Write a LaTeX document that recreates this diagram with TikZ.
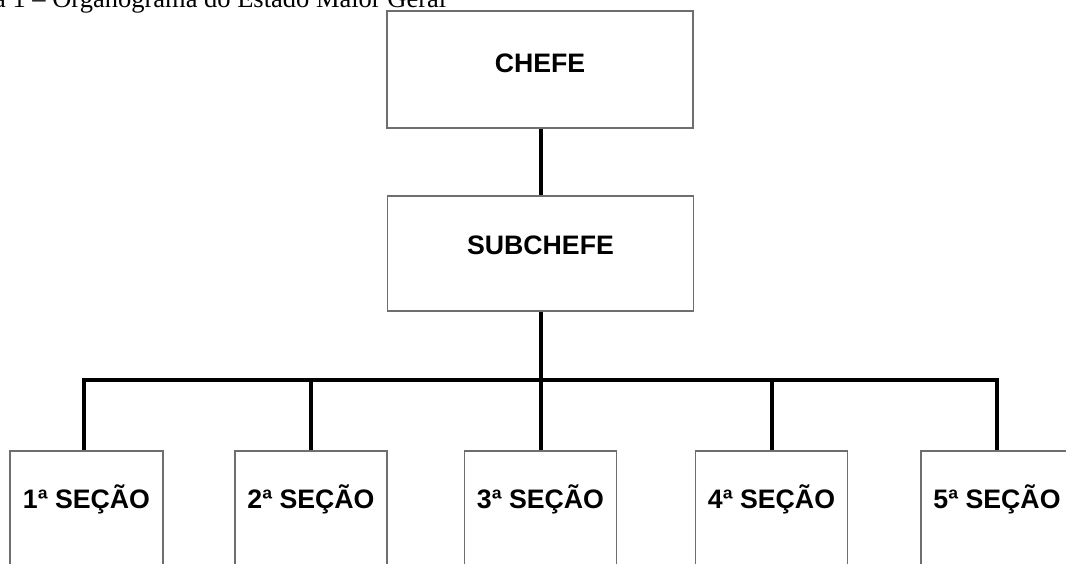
\documentclass[tikz,border=0pt]{standalone}
\usepackage{fontspec}
\setmainfont{Liberation Serif}
\newfontfamily\boxfont{Liberation Sans}
\definecolor{boxline}{RGB}{110,110,110}
\begin{document}
\begin{tikzpicture}[x=1pt,y=-1pt,
  orgbox/.style={draw=boxline, line width=1.5pt, fill=white, inner xsep=0pt,
    font=\boxfont\bfseries\fontsize{26.7}{30}\selectfont, anchor=north},
  topbox/.style={orgbox, inner ysep=0pt, minimum width=306pt},
  secbox/.style={orgbox, minimum width=152pt, inner ysep=37.5pt, text height=20pt, text depth=100pt},
  link/.style={line width=4pt, black}]
\clip (0,0) rectangle (1066,563);
\fill[white] (0,0) rectangle (1066,563);
% caption (partly cut off in the reference)
\node[anchor=base west, inner sep=0pt, font=\fontsize{26.5}{30}\selectfont] (cap) at (-6,7) {a 1 – Organograma do Estado Maior Geral};
% boxes
\node[topbox, text height=61.5pt, text depth=55.5pt] (chefe) at (540,10) {CHEFE};
\node[topbox, text height=58.5pt, text depth=56.5pt] (sub) at (540.5,195) {SUBCHEFE};
\node[secbox, minimum width=153pt] (s1) at (86.5,450) {1ª SEÇÃO};
\node[secbox] (s2) at (311,450) {2ª SEÇÃO};
\node[secbox] (s3) at (540.5,450) {3ª SEÇÃO};
\node[secbox] (s4) at (771.5,450) {4ª SEÇÃO};
\node[secbox] (s5) at (997,450) {5ª SEÇÃO};
% connectors
\coordinate (bus) at (541,380);
\coordinate (d1) at (84,450);
\draw[link] (chefe.south -| bus) -- (sub.north -| bus);
\draw[link] (sub.south -| bus) -- (bus);
\draw[link] (d1) |- (bus) -| (s5.north);
\draw[link] (s2.north) -- (s2.north |- bus);
\draw[link] (s3.north) -- (s3.north |- bus);
\draw[link] (s4.north) -- (s4.north |- bus);
\end{tikzpicture}
\end{document}
